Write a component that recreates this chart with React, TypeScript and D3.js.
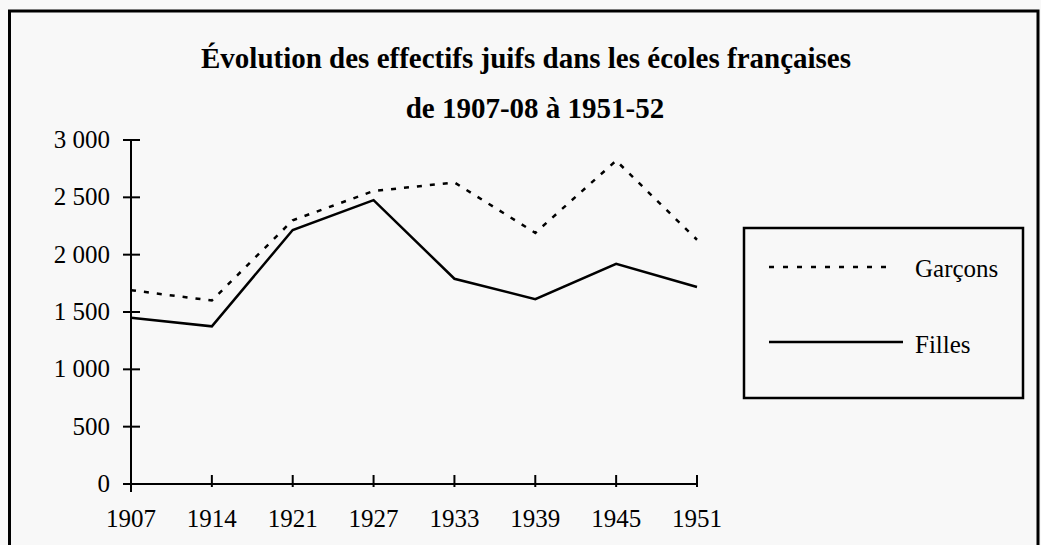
import * as d3 from 'd3';

const years = ['1907', '1914', '1921', '1927', '1933', '1939', '1945', '1951'];
const garcons = [1690, 1600, 2300, 2555, 2630, 2190, 2820, 2130];
const filles = [1450, 1375, 2215, 2475, 1790, 1612, 1920, 1718];
const yTicks = [0, 500, 1000, 1500, 2000, 2500, 3000];
const titleLines = ['Évolution des effectifs juifs dans les écoles françaises', 'de 1907-08 à 1951-52'];

const W = 1041;
const H = 545;
const FONT = "'Liberation Serif', 'Times New Roman', Times, serif";

const fmt = d3.formatLocale({ decimal: ',', thousands: ' ', grouping: [3], currency: ['', ' €'] }).format(',d');

export default function App() {
  const x = d3.scalePoint<string>().domain(years).range([131, 697]);
  const y = d3.scaleLinear().domain([0, 3000]).range([484, 140]);

  const line = d3.line<number>()
    .x((_, i) => x(years[i]) as number)
    .y(d => y(d));

  const txt = { fontFamily: FONT };

  return (
    <svg width={W} height={H} style={{ position: 'fixed', left: 0, top: 0, background: '#f8f8f8', fontFamily: FONT }}>
      <rect x={0} y={0} width={W} height={H} fill="#f8f8f8" />
      {/* outer frame */}
      <path d={`M9.5,${H + 5} V11 H1038 V${H + 5}`} fill="none" stroke="#000" strokeWidth={3} />

      <text x={526} y={68} textAnchor="middle" fontWeight="bold" fontSize={29} style={txt}>{titleLines[0]}</text>
      <text x={535} y={118} textAnchor="middle" fontWeight="bold" fontSize={29} style={txt}>{titleLines[1]}</text>

      {/* y axis */}
      <line x1={x(years[0])} x2={x(years[0])} y1={y(3000)} y2={y(0) + 8} stroke="#000" strokeWidth={2} />
      {yTicks.map(t => (
        <g key={t}>
          <line x1={123} x2={140} y1={y(t)} y2={y(t)} stroke="#000" strokeWidth={2} />
          <text x={110} y={y(t) + 8} textAnchor="end" fontSize={25} style={txt}>{fmt(t)}</text>
        </g>
      ))}

      {/* x axis */}
      <line x1={x(years[0])} x2={x(years[years.length - 1])} y1={y(0)} y2={y(0)} stroke="#000" strokeWidth={2} />
      {years.map(yr => (
        <g key={yr}>
          <line x1={x(yr)} x2={x(yr)} y1={y(0) - 9} y2={y(0) + 3} stroke="#000" strokeWidth={2} />
          <text x={x(yr)} y={527} textAnchor="middle" fontSize={25} style={txt}>{yr}</text>
        </g>
      ))}

      <path d={line(garcons) || ''} fill="none" stroke="#000" strokeWidth={2.5} strokeDasharray="5,8" />
      <path d={line(filles) || ''} fill="none" stroke="#000" strokeWidth={2.5} />

      {/* legend */}
      <rect x={744} y={228} width={279} height={170} fill="none" stroke="#000" strokeWidth={2.5} />
      <line x1={769} x2={892} y1={267} y2={267} stroke="#000" strokeWidth={2.5} strokeDasharray="5,9" />
      <text x={915} y={277} fontSize={25} style={txt}>Garçons</text>
      <line x1={769} x2={903} y1={342} y2={342} stroke="#000" strokeWidth={2.5} />
      <text x={915} y={353} fontSize={25} style={txt}>Filles</text>
    </svg>
  );
}
